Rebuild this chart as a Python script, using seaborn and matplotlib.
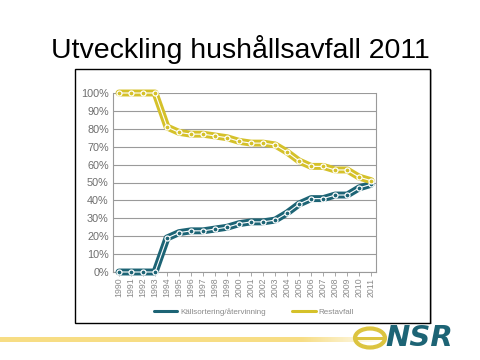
import numpy as np
import pandas as pd
import seaborn as sns
import matplotlib.pyplot as plt
from matplotlib.patches import Ellipse, Rectangle

years = [str(y) for y in range(1990, 2012)]
kallsortering = [0, 0, 0, 0, 19, 22, 23, 23, 24, 25, 27, 28, 28, 29, 33, 38, 41, 41, 43, 43, 47, 49]
restavfall = [100, 100, 100, 100, 81, 78, 77, 77, 76, 75, 73, 72, 72, 71, 67, 62, 59, 59, 57, 57, 53, 51]
series_names = ['Källsortering/återvinning', 'Restavfall']
yticks = [0, 10, 20, 30, 40, 50, 60, 70, 80, 90, 100]

teal = '#1d6475'
yellow = '#d5c12a'
gray = '#6e6e6e'

df = pd.DataFrame({'x': list(range(len(years))) * 2,
                   'value': kallsortering + restavfall,
                   'serie': [series_names[0]] * len(years) + [series_names[1]] * len(years)})

sns.set_style('white')
plt.rcParams['font.family'] = ['Liberation Sans', 'DejaVu Sans']

fig = plt.figure(figsize=(4.8, 3.6), dpi=100)
fig.patch.set_facecolor('white')

# outer frame
fig.add_artist(Rectangle((75 / 480, 1 - 323 / 360), (430 - 75) / 480, (323 - 69) / 360,
                         transform=fig.transFigure, fill=False, edgecolor='black', lw=1.0))
fig.add_artist(Rectangle((431 / 480, 1 - 324 / 360), 1.2 / 480, (324 - 70) / 360,
                         transform=fig.transFigure, color='#999999', lw=0))

fig.text(0.5, 1 - 50 / 360, 'Utveckling hushållsavfall 2011', ha='center', va='center',
         fontsize=20.5, color='black')

ax = fig.add_axes([113 / 480, 1 - 272 / 360, (376 - 113) / 480, (272 - 93) / 360])
sns.lineplot(data=df, x='x', y='value', hue='serie', palette=[teal, yellow],
             linewidth=5, ax=ax, legend=True, clip_on=False, zorder=3)
for vals, c in [(kallsortering, teal), (restavfall, yellow)]:
    ax.plot(range(len(years)), vals, color='white', lw=0.8, zorder=4, clip_on=False)
    ax.plot(range(len(years)), vals, ls='none', marker='o', ms=3.6, mfc=c, mec='white',
            mew=0.9, zorder=5, clip_on=False)

ax.set_xlim(-0.5, 21.4)
ax.set_ylim(0, 100)
ax.set_yticks(yticks)
ax.set_yticklabels([f'{v}%' for v in yticks], fontsize=7.8, color=gray)
ax.set_xticks(range(len(years)))
ax.set_xticklabels(years, rotation=90, fontsize=6.3, color='#8a8a8a')
ax.grid(axis='y', color='#9a9a9a', lw=0.8)
ax.set_axisbelow(True)
for s in ['left', 'right', 'bottom']:
    ax.spines[s].set_color('#9a9a9a')
    ax.spines[s].set_linewidth(0.8)
ax.spines['top'].set_visible(False)
ax.tick_params(axis='x', length=3, width=0.6, color='#9a9a9a', pad=1, bottom=True)
ax.tick_params(axis='y', length=0, pad=3)
ax.set_xlabel('')
ax.set_ylabel('')

h, l = ax.get_legend_handles_labels()
for hh in h:
    hh.set_linewidth(2.2)
ax.legend(h, l, loc='center', bbox_to_anchor=((254 - 113) / 263, (272 - 312) / 179),
          ncol=2, frameon=False, fontsize=5.8, handlelength=2.9, handletextpad=0.35,
          columnspacing=3.3, labelcolor='#8a8a8a')

# bottom gradient bar
grad_ax = fig.add_axes([0, 1 - 342 / 360, 385 / 480, 5 / 360])
g = np.ones((1, 256, 4))
g[..., 0] = 0.97
g[..., 1] = 0.87
g[..., 2] = 0.52
alpha = np.ones(256)
alpha[200:] = np.linspace(1, 0, 56)
g[0, :, 3] = alpha
grad_ax.imshow(g, aspect='auto', extent=[0, 1, 0, 1])
grad_ax.axis('off')

# logo
fig.add_artist(Ellipse((370 / 480, 1 - 338 / 360), 30 / 480, 19 / 360, transform=fig.transFigure,
                       fill=False, edgecolor='#dcc440', lw=3))
fig.add_artist(Rectangle((355 / 480, 1 - 339.5 / 360), 30 / 480, 3 / 360, transform=fig.transFigure,
                         color='#dcc440', lw=0))
fig.text(385 / 480, 1 - 338 / 360, 'NSR', fontsize=21, fontweight='bold', style='italic',
         color=teal, ha='left', va='center', family='DejaVu Sans')

fig.savefig('out.png', dpi=100)
